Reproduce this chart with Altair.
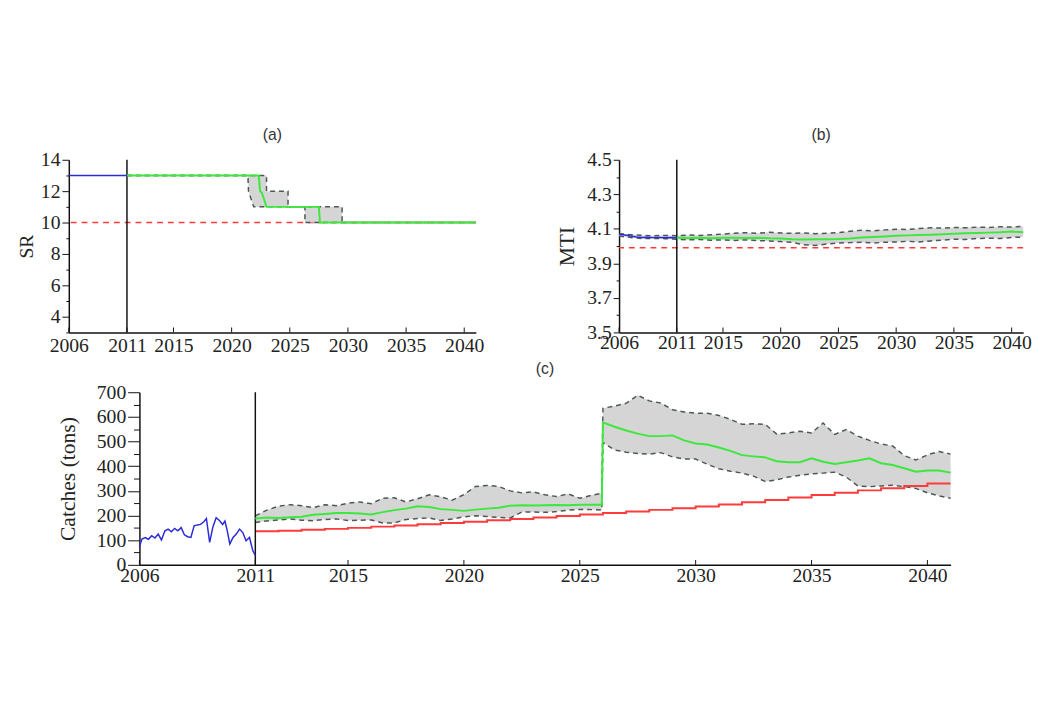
import altair as alt
import pandas as pd

SERIF = "Liberation Serif"
BLUE = "#2a2ad8"
GREEN = "#3ce83c"
RED = "#ff3b3b"
BAND = "#d5d5d5"
EDGE = "#4d5757"
INK = "#111111"

X_DOMAIN = [2006, 2041]
X_TICKS = [2006, 2011, 2015, 2020, 2025, 2030, 2035, 2040]
MGMT_YEAR = [2011]

# ---------------- (a) SR ----------------
sr_obs_year = [2006, 2011]
sr_obs = [13, 13]
sr_band_year = [2011, 2021.4, 2021.45, 2021.9, 2023.0, 2023.0, 2024.85, 2024.85, 2026.3, 2026.3, 2029.5, 2029.5, 2041]
sr_band_lo = [13, 13, 12, 11, 11, 11, 11, 11, 11, 10, 10, 10, 10]
sr_band_hi = [13, 13, 13, 13, 13, 12, 12, 11, 11, 11, 11, 10, 10]
sr_med_year = [2011, 2022.33, 2022.45, 2022.6, 2023.0, 2027.5, 2027.6, 2041]
sr_med = [13, 13, 12.0, 11.9, 11, 11, 10, 10]
sr_ref = 10
sr_ticks = [3, 4, 5, 6, 7, 8, 9, 10, 11, 12, 13, 14]

# ---------------- (b) MTI ----------------
mti_obs_year = [2006, 2006.5, 2007, 2007.5, 2008, 2008.5, 2009, 2009.5, 2010, 2010.5, 2011]
mti_obs = [4.068, 4.064, 4.058, 4.053, 4.050, 4.051, 4.049, 4.050, 4.048, 4.050, 4.048]
mti_band_year = [2006, 2007, 2008, 2009, 2010, 2011, 2012, 2013, 2014, 2015, 2016, 2017,
                 2018, 2019, 2020, 2021, 2022, 2023, 2024, 2025, 2026, 2027, 2028, 2029,
                 2030, 2031, 2032, 2033, 2034, 2035, 2036, 2037, 2038, 2039, 2040, 2041]
mti_lo = [4.058, 4.050, 4.044, 4.044, 4.043, 4.040, 4.036, 4.038, 4.034, 4.036, 4.033, 4.036,
          4.032, 4.030, 4.026, 4.022, 4.008, 4.004, 4.012, 4.018, 4.020, 4.022, 4.018, 4.022,
          4.024, 4.028, 4.024, 4.030, 4.034, 4.040, 4.038, 4.044, 4.046, 4.044, 4.050, 4.052]
mti_hi = [4.072, 4.066, 4.062, 4.060, 4.062, 4.060, 4.064, 4.062, 4.066, 4.070, 4.074, 4.078,
          4.074, 4.080, 4.076, 4.074, 4.076, 4.072, 4.074, 4.078, 4.086, 4.092, 4.088, 4.094,
          4.098, 4.096, 4.102, 4.106, 4.104, 4.108, 4.106, 4.110, 4.108, 4.112, 4.110, 4.114]
mti_med_year = [2011, 2012, 2013, 2014, 2015, 2016, 2017, 2018, 2019, 2020, 2021, 2022, 2023,
                2024, 2025, 2026, 2027, 2028, 2029, 2030, 2031, 2032, 2033, 2034, 2035, 2036,
                2037, 2038, 2039, 2040, 2041]
mti_med = [4.048, 4.047, 4.048, 4.046, 4.048, 4.049, 4.047, 4.048, 4.045, 4.044, 4.040, 4.038,
           4.040, 4.040, 4.041, 4.044, 4.050, 4.053, 4.056, 4.060, 4.062, 4.064, 4.066, 4.068,
           4.072, 4.074, 4.076, 4.078, 4.080, 4.084, 4.080]
mti_ref = 3.99
mti_ticks = [3.5, 3.6, 3.7, 3.8, 3.9, 4.0, 4.1, 4.2, 4.3, 4.4, 4.5]

# ---------------- (c) Catches ----------------
catch_obs_year = [2006.00, 2006.11, 2006.25, 2006.39, 2006.53, 2006.67, 2006.81, 2006.95, 2007.10,
                  2007.24, 2007.38, 2007.52, 2007.66, 2007.80, 2007.94, 2008.08, 2008.22, 2008.36,
                  2008.50, 2008.64, 2008.78, 2008.89, 2009.03, 2009.17, 2009.31, 2009.45, 2009.59,
                  2009.69, 2009.79, 2009.90, 2010.04, 2010.18, 2010.32, 2010.46, 2010.60, 2010.75,
                  2010.89, 2011.00]
catch_obs = [74, 105, 111, 104, 118, 109, 125, 101, 138, 145, 134, 148, 138, 151, 122, 114, 111,
             158, 162, 164, 175, 188, 91, 154, 191, 180, 164, 178, 138, 85, 111, 125, 145, 131,
             98, 111, 58, 38]
catch_band_year = [2011.0, 2011.5, 2012.0, 2012.5, 2013.0, 2013.5, 2014.0, 2014.5, 2015.0, 2015.5,
                   2016.0, 2016.5, 2017.0, 2017.5, 2018.0, 2018.5, 2019.0, 2019.5, 2020.0, 2020.5,
                   2021.0, 2021.5, 2022.0, 2022.5, 2023.0, 2023.5, 2024.0, 2024.5, 2025.0, 2025.5,
                   2025.95, 2026.0, 2026.5, 2027.0, 2027.5, 2028.0, 2028.5, 2029.0, 2029.5, 2030.0,
                   2030.5, 2031.0, 2031.5, 2032.0, 2032.5, 2033.0, 2033.5, 2034.0, 2034.5, 2035.0,
                   2035.5, 2036.0, 2036.5, 2037.0, 2037.5, 2038.0, 2038.5, 2039.0, 2039.5, 2040.0,
                   2040.5, 2041.0]
catch_lo = [172, 178, 182, 186, 181, 179, 184, 186, 180, 181, 182, 170, 170, 184, 188, 190, 180,
            186, 195, 199, 196, 192, 190, 214, 214, 213, 216, 222, 225, 224, 222, 496, 466, 457,
            452, 449, 455, 438, 429, 429, 408, 390, 380, 372, 360, 338, 345, 356, 363, 369, 372,
            376, 356, 320, 317, 320, 323, 317, 310, 292, 280, 270]
catch_med = [188, 192, 190, 193, 195, 203, 206, 210, 210, 208, 204, 214, 222, 228, 238, 235, 226,
             223, 219, 224, 228, 232, 240, 242, 241, 242, 243, 242, 244, 244, 244, 578, 560, 545,
             532, 522, 522, 525, 505, 492, 488, 476, 462, 445, 440, 436, 420, 416, 416, 432, 418,
             409, 416, 423, 432, 412, 405, 392, 378, 383, 383, 374]
catch_hi = [199, 222, 238, 244, 240, 232, 244, 240, 250, 255, 248, 270, 272, 255, 268, 284, 276,
            262, 285, 318, 322, 318, 300, 292, 296, 284, 277, 288, 270, 282, 290, 635, 644, 655,
            688, 665, 656, 629, 620, 615, 615, 606, 590, 570, 572, 570, 530, 535, 542, 535, 575,
            529, 549, 522, 505, 490, 482, 443, 425, 446, 460, 449]
catch_ref_year = [2011, 2012, 2013, 2014, 2015, 2016, 2017, 2018, 2019, 2020, 2021, 2022, 2023,
                  2024, 2025, 2026, 2027, 2028, 2029, 2030, 2031, 2032, 2033, 2034, 2035, 2036,
                  2037, 2038, 2039, 2040, 2041]
catch_ref = [136, 138, 142, 146, 150, 155, 160, 165, 170, 175, 181, 186, 192, 198, 204, 210, 216,
             223, 230, 237, 245, 254, 263, 273, 283, 292, 302, 311, 320, 330, 330]
catch_ticks = [0, 50, 100, 150, 200, 250, 300, 350, 400, 450, 500, 550, 600, 650, 700]


def x_axis(label_pad):
    return alt.Axis(values=X_TICKS, format="d", ticks=False, tickSize=0, labelFont=SERIF,
                    labelFontSize=20, labelColor="#222", labelPadding=label_pad,
                    labelFlush=False, labelOverlap=False, domainColor=INK, domainWidth=1.5,
                    grid=False)


def y_axis(values, test, fmt, major, minor, title_size, title_pad):
    return alt.Axis(values=values, format=fmt,
                    labelExpr=f"({test}) ? datum.label : ''",
                    tickSize={"condition": {"test": test, "value": major}, "value": minor},
                    labelFont=SERIF, labelFontSize=20, labelColor="#222", labelPadding=2,
                    labelOverlap=False, labelFlush=False, domainColor=INK, domainWidth=1.5,
                    tickColor=INK, tickWidth=1, grid=False, titleFont=SERIF,
                    titleFontSize=title_size, titleFontWeight="normal", titleColor="#222",
                    titlePadding=title_pad)


def panel(title, width, height, y_domain, yax, y_title, xpad, title_offset,
          obs_year, obs_val, band_year, band_lo, band_hi, med_year, med_val,
          ref=None, ref_year=None, ref_val=None):
    xs = alt.Scale(domain=X_DOMAIN, nice=False, zero=False)
    ys = alt.Scale(domain=y_domain, nice=False, zero=False)
    xax = x_axis(xpad)

    def X(f="year"):
        return alt.X(f"{f}:Q", scale=xs, axis=xax, title=None)

    def Y(f):
        return alt.Y(f"{f}:Q", scale=ys, axis=yax, title=y_title)

    band = pd.DataFrame({"year": band_year, "lo": band_lo, "hi": band_hi,
                         "i": list(range(len(band_year)))})
    med = pd.DataFrame({"year": med_year, "v": med_val, "i": list(range(len(med_year)))})
    obs = pd.DataFrame({"year": obs_year, "v": obs_val, "i": list(range(len(obs_year)))})

    layers = []
    if ref is not None:
        layers.append(alt.Chart(pd.DataFrame({"ref": [ref]})).mark_rule(
            color=RED, strokeDash=[6, 5], strokeWidth=1.5).encode(y=Y("ref")))
    layers.append(alt.Chart(band).mark_area(fill=BAND, fillOpacity=1, stroke=None).encode(
        x=X(), y=Y("lo"), y2=alt.Y2("hi")))
    for f in ["lo", "hi"]:
        layers.append(alt.Chart(band).mark_line(
            color=EDGE, strokeDash=[5, 4], strokeWidth=1.5).encode(
            x=X(), y=Y(f), order="i:Q"))
    if ref_year is not None:
        rdf = pd.DataFrame({"year": ref_year, "v": ref_val})
        layers.append(alt.Chart(rdf).mark_line(
            color=RED, strokeWidth=2, interpolate="step-after").encode(x=X(), y=Y("v")))
    layers.append(alt.Chart(pd.DataFrame({"year": MGMT_YEAR})).mark_rule(
        color=INK, strokeWidth=1.5).encode(x=X()))
    layers.append(alt.Chart(med).mark_line(color=GREEN, strokeWidth=2).encode(
        x=X(), y=Y("v"), order="i:Q"))
    layers.append(alt.Chart(obs).mark_line(color=BLUE, strokeWidth=1.5).encode(
        x=X(), y=Y("v"), order="i:Q"))
    layers.append(alt.Chart(pd.DataFrame({"year": X_TICKS})).mark_rule(
        color=INK, strokeWidth=1).encode(
        x=X(), y=alt.value(height), y2=alt.value(height - 5)))

    return alt.layer(*layers).properties(
        width=width, height=height,
        title=alt.TitleParams(text=title, font="Liberation Sans", fontSize=16,
                              fontWeight="normal", color="#333", offset=title_offset,
                              anchor="middle"))


pa = panel("(a)", 415, 176, [3, 14],
           y_axis(sr_ticks, "datum.value % 2 === 0", "d", 7, 3, 20, 4), "SR", 3, 7,
           sr_obs_year, sr_obs, sr_band_year, sr_band_lo, sr_band_hi, sr_med_year, sr_med,
           ref=sr_ref)

pb = panel("(b)", 412, 176, [3.5, 4.5],
           y_axis(mti_ticks, "round(datum.value * 10) % 2 === 1", ".1f", 6, 3, 22, 8),
           "MTI", 0, 7,
           mti_obs_year, mti_obs, mti_band_year, mti_lo, mti_hi, mti_med_year, mti_med,
           ref=mti_ref)

pc = panel("(c)", 827, 176, [0, 700],
           y_axis(catch_ticks, "datum.value % 100 === 0", "d", 12, 6, 22, 17),
           "Catches (tons)", 1, 6,
           catch_obs_year, catch_obs, catch_band_year, catch_lo, catch_hi,
           catch_band_year, catch_med, ref_year=catch_ref_year, ref_val=catch_ref)

spacer = alt.Chart(pd.DataFrame({"v": [0]})).mark_point(opacity=0).properties(width=72, height=176)

row1 = alt.hconcat(pa, pb, spacing=146, bounds="flush")
row2 = alt.hconcat(spacer, pc, spacing=0, bounds="flush")

chart = alt.vconcat(row1, row2, spacing=6).properties(
    padding={"left": 9, "top": 116, "right": 0, "bottom": 5}
).configure_view(stroke=None)

chart.save("out.html", embed_options={"renderer": "svg", "actions": False})
